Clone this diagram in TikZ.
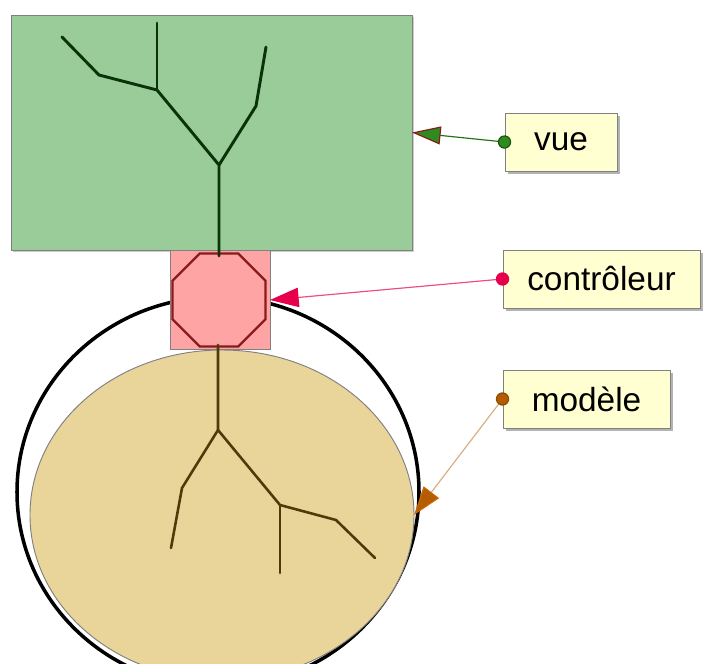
\documentclass[tikz,border=0pt]{standalone}
\usepackage{fontspec}
\setmainfont{Liberation Sans}
\usetikzlibrary{arrows.meta,shapes.geometric,shadows}
\definecolor{viewgreen}{HTML}{99CC99}
\definecolor{treegreen}{HTML}{0A330A}
\definecolor{ctrlpink}{HTML}{FFA4A4}
\definecolor{octored}{HTML}{8B1A1A}
\definecolor{modeltan}{HTML}{E9D49A}
\definecolor{treebrown}{HTML}{4D3C0A}
\definecolor{labelyellow}{HTML}{FFFFD2}
\definecolor{dotgreen}{HTML}{2E8B1E}
\definecolor{dotpink}{HTML}{E6004C}
\definecolor{dotbrown}{HTML}{B35C00}
\begin{document}
\begin{tikzpicture}[x=0.03cm, y=-0.03cm,
  labelbox/.style={draw=gray, line width=0.8pt, fill=labelyellow, minimum height=1.74cm,
    font=\fontsize{28.5}{32}\selectfont,
    drop shadow={shadow xshift=0.08cm, shadow yshift=-0.08cm, opacity=0.6, fill=gray}},
  part/.style={draw=gray, line width=0.8pt, inner sep=0pt, outer sep=0pt},
  branch/.style={line width=2.5pt, line join=round, line cap=round},
  pointer/.style={line width=1pt, shorten <=-0.2cm}]
  \useasboundingbox (0, 0) rectangle (703, 663);

  % ring and model
  \draw[line width=3pt] (218, 492) ellipse [x radius=201, y radius=195];
  \node[part, ellipse, fill=modeltan, minimum width=11.52cm, minimum height=9.9cm] (modele) at (222, 515) {};

  % view and controller
  \node[part, fill=viewgreen, minimum width=12.03cm, minimum height=7.05cm,
    drop shadow={shadow xshift=0.06cm, shadow yshift=-0.06cm, opacity=0.4, fill=gray}] (vue) at (211.5, 132.5) {};
  \node[part, fill=ctrlpink, minimum width=3cm, minimum height=2.97cm] (ctrl) at (220, 300) {};
  \node[regular polygon, regular polygon sides=8, draw=octored, line width=2pt, fill=ctrlpink,
    minimum size=3.02cm, inner sep=0pt] (octo) at (219, 300) {};

  % trees
  \draw[branch, treegreen] (219, 256) -- (219, 165) -- (157, 90) -- (99, 75) -- (62, 37);
  \draw[branch, treegreen] (157, 90) -- (157, 23);
  \draw[branch, treegreen] (219, 165) -- (256, 106) -- (266, 47);
  \draw[branch, treebrown, line width=2.2pt] (218, 345) -- (218, 430) -- (182, 488) -- (171, 548);
  \draw[branch, treebrown, line width=2.2pt] (218, 430) -- (280, 505) -- (336, 520) -- (375, 558);
  \draw[branch, treebrown, line width=2.2pt] (280, 505) -- (280, 573);

  % labels
  \node[labelbox, minimum width=3.36cm] (vuelabel) at (561, 142) {vue};
  \node[labelbox, minimum width=5.91cm] (ctrllabel) at (601.5, 279) {contrôleur};
  \node[labelbox, minimum width=5.01cm] (modlabel) at (586.5, 399) {modèle};

  \draw[pointer, dotgreen!80!black,
    {Circle[length=0.4cm, fill=dotgreen, color=dotgreen!60!black]}-{Triangle[length=0.86cm, width=0.54cm, fill=dotgreen, color=octored]}]
    (vuelabel.west) -- (vue.east);
  \draw[pointer, dotpink!70,
    {Circle[length=0.4cm, fill=dotpink, color=dotpink]}-{Triangle[length=0.86cm, width=0.58cm, fill=dotpink, color=dotpink]}]
    (ctrllabel.west) -- (ctrl.east);
  \draw[pointer, dotbrown!50!white,
    {Circle[length=0.4cm, fill=dotbrown, color=dotbrown!80!black]}-{Triangle[length=0.86cm, width=0.58cm, fill=dotbrown, color=orange!80!black]}]
    (modlabel.west) -- (modele.east);
\end{tikzpicture}
\end{document}
